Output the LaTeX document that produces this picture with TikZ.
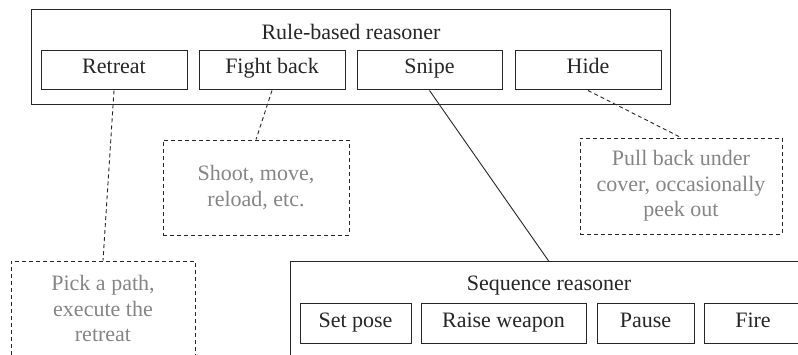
\documentclass[tikz,border=0pt]{standalone}
\usepackage{fontspec}
\setmainfont{Liberation Serif}
\begin{document}
\begin{tikzpicture}[x=1pt,y=-1pt,
  every node/.style={font=\fontsize{22}{25.5}\selectfont},
  frame/.style={draw=black!85, line width=1pt, inner sep=0pt},
  item/.style={frame, minimum height=39pt, text height=0.8em, text depth=0.15em},
  note/.style={draw=black!85, line width=0.9pt, dash pattern=on 4pt off 3pt, inner sep=0pt, align=center, text=black!48},
  link/.style={draw=black!85, line width=0.9pt, dash pattern=on 4pt off 3pt},
  solidlink/.style={draw=black!85, line width=0.9pt},
  title/.style={anchor=base, inner sep=0pt, text=black!85}
]
\useasboundingbox (0,0) rectangle (798,355);
\clip (0,0) rectangle (798,355);

% Rule-based reasoner
\node[frame, minimum width=639pt, minimum height=95pt] (rule) at (350.5,57.5) {};
\node[title] (ruletitle) at (351,39.5) {Rule-based reasoner};
\node[item, minimum width=146pt, text=black!85] (retreat) at (114,70.5) {Retreat};
\node[item, minimum width=146pt, text=black!85] (fight) at (272,70.5) {Fight back};
\node[item, minimum width=145pt, text=black!85] (snipe) at (429.5,70.5) {Snipe};
\node[item, minimum width=146pt, text=black!85] (hide) at (588,70.5) {Hide};

% Notes
\node[note, minimum width=186pt, minimum height=95pt] (shoot) at (256,187.5) {Shoot, move,\\reload, etc.};
\node[note, minimum width=184pt, minimum height=95pt] (pick) at (103,308.5) {Pick a path,\\execute the\\retreat};
\node[note, minimum width=202pt, minimum height=96pt] (cover) at (681,186) {Pull back under\\cover, occasionally\\peek out};

% Sequence reasoner
\node[frame, minimum width=518pt, minimum height=98pt] (seq) at (549,311) {};
\node[title] (seqtitle) at (549,290.5) {Sequence reasoner};
\node[item, minimum width=111pt, minimum height=40pt, text=black!85] (pose) at (355.5,324) {Set pose};
\node[item, minimum width=165pt, minimum height=40pt, text=black!85] (raise) at (503.5,324) {Raise weapon};
\node[item, minimum width=97pt, minimum height=40pt, text=black!85] (pause) at (645.5,324) {Pause};
\node[item, minimum width=98pt, minimum height=40pt, text=black!85] (fire) at (753,324) {Fire};

% Connectors
\draw[link] (retreat.south) -- (pick.north);
\draw[link] (fight.south) -- (shoot.north);
\draw[link] (hide.south) -- (cover.north);
\draw[solidlink] (snipe.south) -- (seq.north);
\end{tikzpicture}
\end{document}
